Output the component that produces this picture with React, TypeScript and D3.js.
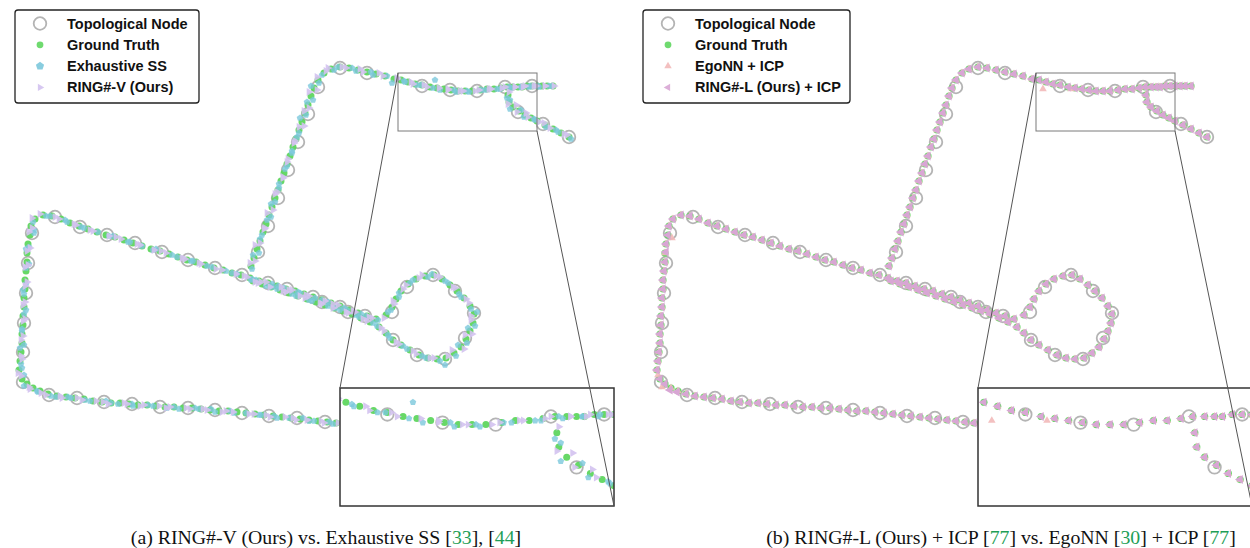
import React from 'react';
import * as d3 from 'd3';

type P = [number, number];

// Ground-truth query trajectory (map units), in driving order
const groundTruth: P[] = [
  // bottom road
  [336,423],[327,422],[318,421],[309,420],[300,419],[291,418],[282,417],[273,416],[264,415],[255,414],[246,413],[237,412],[228,411],[219,411],[210,410],[201,409],[192,408],[183,408],[174,407],[165,407],[156,406],[147,405],[138,405],[129,404],[120,403],[111,403],[102,402],[93,401],[84,399],[75,398],[66,397],[57,396],[48,394],[40,391],[33,388],[27,384],[22,379],
  // left road
  [19,370],[20,361],[21,352],[22,343],[22,334],[23,325],[23,316],[24,307],[24,298],[25,289],[25,280],[26,271],[27,262],[27,253],[28,244],[30,235],[31,226],[35,219],
  // upper diagonal
  [43,215],[52,216],[61,219],[70,223],[79,226],[88,229],[97,232],[106,235],[115,237],[124,240],[133,243],[142,246],[151,249],[160,251],[169,254],[178,257],[187,260],[196,262],[205,265],[214,268],[223,270],[232,273],[241,275],[250,278],[259,281],[268,283],[277,286],[286,289],[295,291],[304,294],[313,297],[322,300],[331,303],[340,306],[349,310],[358,313],[367,316],[376,319],
  // loop
  [386,315],[392,307],[396,299],[401,291],[408,284],[416,279],[425,276],[434,275],[442,279],[450,285],[457,291],[464,298],[470,306],[474,314],[473,323],[470,331],[466,339],[461,347],[454,353],[446,358],[437,359],[428,358],[419,355],[410,350],[401,345],[393,340],[386,333],[379,327],
  // return along diagonal
  [370,322],[361,318],[352,314],[343,311],[334,308],[325,305],[316,302],[307,299],[298,296],[289,293],[280,290],[271,287],[262,284],[253,281],
  // long straight up
  [251,266],[254,258],[257,249],[260,241],[263,232],[266,224],[269,215],[272,207],[275,198],[278,190],[281,181],[284,173],[287,164],[290,156],[293,147],[296,139],[299,130],[302,122],[305,113],[308,105],[311,96],[314,88],[318,80],[324,73],[331,69],[340,67],
  // top road
  [349,68],[358,70],[367,72],[376,74],[385,76],[394,79],[401,80],[408,82],[415,84],[422,85],[430,87],[437,88],[444,89],[451,90],[458,91],[465,91],[472,91],[480,90],[487,89],[494,89],[501,88],[507,87],[513,87],[518,87],[522,87],[527,86],[532,86],[537,86],[542,86],[547,86],[553,86],
  // branch
  [508,95],[509,102],[513,107],[519,111],[525,115],[531,118],[537,121],[545,125],[553,129],[561,133],[569,137],
];

// Topological map nodes
const topoNodes: P[] = [
  [23,382],[49,395],[77,398],[104,402],[132,404],[160,407],[188,408],[215,410],[242,413],[269,416],[297,418],[325,422],
  [23,352],[24,323],[26,293],[28,263],[32,233],
  [55,217],[80,227],[107,235],[135,243],[162,252],[188,260],[215,268],[242,275],[268,283],[287,289],[313,297],[322,302],[340,307],[348,312],[365,316],
  [392,312],[407,287],[433,275],[455,291],[474,313],[465,338],[445,359],[417,355],[393,340],
  [258,252],[268,226],[278,198],[288,170],[298,142],[308,114],[318,87],
  [340,68],[367,73],[422,86],[450,90],[477,91],[505,87],[532,86],
  [518,112],[543,124],[569,137],
];

// Exhaustive SS estimation error per query (dx, dy)
const exhaustiveErr: P[] = [
  [-3,1],[2,0],[-4,0],[0,1],[3,-1],[-2,0],[-5,1],[1,0],[-3,0],[4,1],[0,0],[-3,1],[2,0],[-4,1],[1,-1],[-2,0],[3,0],[-4,1],[0,0],[2,1],[-3,0],[1,0],[-5,1],[3,0],[-2,1],[0,0],[4,-1],[-3,0],[1,1],[-4,0],[2,0],[-1,1],[3,2],[-2,1],[4,3],[-3,2],[2,-4],
  [3,-2],[1,3],[-1,-4],[2,2],[0,-3],[-1,4],[1,-2],[2,3],[0,-4],[-2,1],[1,4],[0,-3],[2,2],[-1,-4],[1,3],[4,-2],[3,4],[-2,3],
  [3,1],[-2,0],[4,1],[-3,-1],[2,1],[-4,-1],[1,0],[3,1],[-2,-1],[4,2],[-3,-1],[0,0],[2,1],[-4,-2],[3,1],[-1,0],[4,1],[-3,-1],[2,1],[-2,-1],[3,1],[0,0],[-4,-1],[2,1],[-3,-1],[4,1],[1,0],[-2,-1],[3,1],[-4,-1],[2,1],[0,0],[-3,-1],[4,2],[-2,0],[3,1],[-1,0],[2,1],
  [2,-3],[-1,3],[3,-2],[-2,2],[2,-1],[-3,1],[3,1],[-2,-1],[3,2],[-2,-2],[2,3],[-3,-1],[1,3],[3,-2],[2,3],[-2,-3],[1,4],[-3,-2],[2,3],[-1,7],[3,2],[-2,0],[3,1],[-3,-1],[2,1],[-3,-2],[2,2],[-2,-1],
  [3,1],[-2,-1],[4,1],[-3,-1],[1,0],[3,1],[-4,-1],[2,1],[-2,0],[3,1],[-3,-1],[1,0],[4,2],[-2,-1],
  [1,3],[-1,-3],[2,4],[0,-2],[-1,3],[1,-4],[2,2],[-1,-3],[0,4],[1,-2],[-2,3],[1,-4],[0,2],[2,-3],[-1,4],[1,-2],[0,3],[-2,-4],[1,2],[-1,-3],[2,4],[-3,-2],[1,3],[-2,2],[3,1],[-2,0],
  [3,0],[-2,1],[4,0],[-3,1],[2,0],[-2,4],[3,1],[-3,0],[2,1],[-1,0],[3,1],[-2,-8],[-4,1],[3,0],[-2,1],[2,0],[-3,1],[1,0],[-2,1],[3,0],[-1,1],[2,0],[-2,1],[3,0],[-1,0],[2,1],[-2,0],[1,0],[-3,1],[2,0],[-1,0],
  [-1,3],[1,-2],[-3,2],[2,-1],[-1,2],[3,1],[-2,-1],[1,2],[3,1],[-3,-1],[2,2],
];

// RING#-V estimation error per query (dx, dy)
const ringVErr: P[] = [
  [2,0],[-3,1],[3,0],[-2,0],[-4,1],[2,0],[3,0],[-3,1],[2,0],[-1,0],[3,1],[-4,0],[-2,0],[3,1],[-3,0],[2,0],[-2,1],[3,0],[-4,0],[1,1],[3,0],[-3,0],[2,1],[-2,0],[4,0],[-3,1],[1,0],[3,0],[-2,1],[2,0],[-4,1],[3,0],[-2,1],[1,2],[-3,1],[2,3],[-1,-3],
  [-1,3],[2,-2],[0,4],[-1,-3],[1,2],[0,-4],[2,3],[-1,-2],[1,4],[0,-3],[2,2],[-1,-4],[1,3],[0,-2],[2,4],[-1,-3],[1,2],[-3,-1],
  [-3,-1],[3,1],[-2,0],[4,1],[-3,-1],[2,1],[-4,-1],[3,1],[1,0],[-3,-1],[4,1],[-2,-1],[3,1],[1,0],[-3,-1],[4,1],[-2,-1],[3,1],[-4,-1],[2,1],[-1,0],[4,1],[3,1],[-3,-1],[2,1],[-2,-1],[4,1],[3,1],[-3,-1],[2,1],[-4,-1],[3,1],[2,1],[-2,-1],[4,1],[-3,-1],[2,1],[-4,-1],
  [-2,3],[2,-3],[-3,2],[2,-2],[-2,1],[3,-1],[-3,-1],[2,1],[-2,-2],[3,2],[-2,-3],[2,1],[-1,-3],[-3,2],[-2,-3],[2,3],[-1,-4],[3,2],[-2,-3],[2,-2],[-3,-1],[2,0],[-3,-1],[3,1],[-2,-1],[3,2],[-2,-2],[2,1],
  [-3,-1],[2,1],[-4,-1],[3,1],[-1,0],[-3,-1],[4,1],[-2,-1],[2,0],[-3,-1],[3,1],[-1,0],[-4,-1],[2,1],
  [-1,-3],[1,3],[-2,-4],[0,2],[1,-3],[-1,4],[-2,-2],[1,3],[0,-4],[-1,2],[2,-3],[-1,4],[0,-2],[-2,3],[1,-4],[-1,2],[0,-3],[2,4],[-1,-2],[1,3],[-2,-4],[3,2],[-1,-3],[2,-2],[-3,-1],[2,0],
  [-3,0],[2,-1],[-4,0],[3,-1],[-2,0],[3,-1],[-4,-1],[3,0],[-2,0],[2,0],[-3,0],[2,0],[4,0],[-3,0],[2,0],[-2,0],[3,0],[-1,0],[2,0],[-3,0],[1,0],[-2,0],[2,0],[-3,0],[1,0],[-2,0],[2,0],[-1,0],[3,0],[-2,0],[1,0],
  [1,-3],[-1,2],[3,-2],[-2,1],[1,-2],[-3,-1],[2,1],[-1,-2],[-3,-1],[3,1],[-2,-2],
];

// EgoNN + ICP: frames whose estimate departs from ground truth [frame, dx, dy]
const egoNNDeviations: [number, number, number][] = [
  [167, 4, 9], [171, 3, 2], [52, 4, 3], [36, -2, -4], [35, -3, 3],
];
// RING#-L + ICP: frames whose estimate departs from ground truth [frame, dx, dy]
const ringLDeviations: [number, number, number][] = [
  [33, -1, 1], [34, -1, 2], [50, 1, -1],
];

const legendA = ['Topological Node', 'Ground Truth', 'Exhaustive SS', 'RING#-V (Ours)'];
const legendB = ['Topological Node', 'Ground Truth', 'EgoNN + ICP', 'RING#-L (Ours) + ICP'];

const zoomWindowX: P = [398, 537];
const zoomWindowY: P = [73, 131];

const C = {
  node: '#b4b4b4',
  gt: '#5fd65f',
  ess: '#7cc8dc',
  ringV: '#d3c2ef',
  ego: '#f2b9b9',
  ringL: '#d8a6d4',
  cite: '#1e9e56',
};

type Kind = 'circle' | 'pentagon' | 'triRight' | 'triLeft' | 'triUp';

function shapePath(kind: Kind, r: number): string {
  const p = d3.path();
  let pts: P[] = [];
  if (kind === 'pentagon') {
    pts = d3.range(5).map((k) => {
      const a = (-90 + 72 * k) * Math.PI / 180;
      return [r * Math.cos(a), r * Math.sin(a)] as P;
    });
  } else if (kind === 'triRight') {
    pts = [[r, 0], [-r * 0.5, -r * 0.866], [-r * 0.5, r * 0.866]];
  } else if (kind === 'triLeft') {
    pts = [[-r, 0], [r * 0.5, -r * 0.866], [r * 0.5, r * 0.866]];
  } else if (kind === 'triUp') {
    pts = [[0, -r], [r * 0.866, r * 0.5], [-r * 0.866, r * 0.5]];
  }
  pts.forEach((q, i) => (i === 0 ? p.moveTo(q[0], q[1]) : p.lineTo(q[0], q[1])));
  p.closePath();
  return p.toString();
}

function Marker({ kind, x, y, color, r, opacity = 0.9 }: { kind: Kind; x: number; y: number; color: string; r: number; opacity?: number }) {
  if (kind === 'circle') return <circle cx={x} cy={y} r={r} fill={color} fillOpacity={opacity} />;
  return <path d={shapePath(kind, r)} transform={`translate(${x},${y})`} fill={color} fillOpacity={opacity} />;
}

type Series = { pts: P[]; kind: Kind; color: string; r: number; opacity: number };

function Layer({ series, nodes, sx, sy }: { series: Series[]; nodes: P[]; sx: (v: number) => number; sy: (v: number) => number }) {
  return (
    <g>
      {nodes.map((n, i) => (
        <circle key={'n' + i} cx={sx(n[0])} cy={sy(n[1])} r={6.3} fill="none" stroke={C.node} strokeWidth={1.8} />
      ))}
      {series.map((s, si) => (
        <g key={si}>
          {s.pts.map((p, i) => (
            <Marker key={i} kind={s.kind} x={sx(p[0])} y={sy(p[1])} color={s.color} r={s.r} opacity={s.opacity} />
          ))}
        </g>
      ))}
    </g>
  );
}

function Panel({ ox, series, legend, legendKinds, legendColors, legendW, id }: {
  ox: number; series: Series[]; legend: string[]; legendKinds: Kind[]; legendColors: string[]; legendW: number; id: string;
}) {
  const sx = d3.scaleLinear().domain([0, 620]).range([ox, ox + 620]);
  const sy = d3.scaleLinear().domain([0, 430]).range([0, 430]);
  const ix = d3.scaleLinear().domain(zoomWindowX).range([ox + 340, ox + 614]);
  const iy = d3.scaleLinear().domain(zoomWindowY).range([388, 506]);
  const lx = ox + (id === 'a' ? 15 : 5);
  const insetW = ix(zoomWindowX[1]) - ix(zoomWindowX[0]);
  const insetH = iy(zoomWindowY[1]) - iy(zoomWindowY[0]);
  return (
    <g>
      <Layer series={series} nodes={topoNodes} sx={sx} sy={sy} />
      {/* zoom window */}
      <rect x={sx(zoomWindowX[0])} y={sy(zoomWindowY[0])} width={sx(zoomWindowX[1]) - sx(zoomWindowX[0])} height={sy(zoomWindowY[1]) - sy(zoomWindowY[0])} fill="none" stroke="#7a7a7a" strokeWidth={1} />
      {/* inset */}
      <clipPath id={'clip' + id}>
        <rect x={ix(zoomWindowX[0])} y={iy(zoomWindowY[0])} width={insetW} height={insetH} />
      </clipPath>
      <rect x={ix(zoomWindowX[0])} y={iy(zoomWindowY[0])} width={insetW} height={insetH} fill="#fff" />
      <g clipPath={`url(#clip${id})`}>
        <Layer series={series} nodes={topoNodes} sx={ix} sy={iy} />
      </g>
      <rect x={ix(zoomWindowX[0])} y={iy(zoomWindowY[0])} width={insetW} height={insetH} fill="none" stroke="#333" strokeWidth={1.5} />
      <line x1={sx(zoomWindowX[0])} y1={sy(zoomWindowY[0])} x2={ix(zoomWindowX[0])} y2={iy(zoomWindowY[0])} stroke="#555" strokeWidth={1} />
      <line x1={sx(zoomWindowX[1])} y1={sy(zoomWindowY[1])} x2={ix(zoomWindowX[1])} y2={iy(zoomWindowY[1])} stroke="#555" strokeWidth={1} />
      {/* legend */}
      <rect x={lx} y={10} width={legendW} height={93} rx={3} fill="#fff" stroke="#222" strokeWidth={1.3} />
      {legend.map((t, i) => {
        const y = 23.5 + i * 21.3;
        return (
          <g key={t}>
            {i === 0 ? (
              <circle cx={lx + 25} cy={y} r={6.3} fill="none" stroke={C.node} strokeWidth={1.8} />
            ) : (
              <Marker kind={legendKinds[i]} x={lx + 25} y={y} color={legendColors[i]} r={legendKinds[i] === 'circle' ? 3.4 : 4.3} />
            )}
            <text x={lx + 52} y={y + 5} fontFamily="'Liberation Sans', Arial, sans-serif" fontWeight="bold" fontSize={14.5} fill="#111">{t}</text>
          </g>
        );
      })}
    </g>
  );
}

export default function App() {
  const essPts = groundTruth.map((p, i) => [p[0] + (exhaustiveErr[i]?.[0] ?? 0), p[1] + (exhaustiveErr[i]?.[1] ?? 0)] as P);
  const ringVPts = groundTruth.map((p, i) => [p[0] + (ringVErr[i]?.[0] ?? 0), p[1] + (ringVErr[i]?.[1] ?? 0)] as P);
  const egoPts = groundTruth.map((p, i) => {
    const d = egoNNDeviations.find((e) => e[0] === i);
    return (d ? [p[0] + d[1], p[1] + d[2]] : p) as P;
  });
  const ringLPts = groundTruth.map((p, i) => {
    const d = ringLDeviations.find((e) => e[0] === i);
    return (d ? [p[0] + d[1], p[1] + d[2]] : p) as P;
  });

  const seriesA: Series[] = [
    { pts: groundTruth, kind: 'circle', color: C.gt, r: 3.5, opacity: 0.95 },
    { pts: essPts, kind: 'pentagon', color: C.ess, r: 3.5, opacity: 0.8 },
    { pts: ringVPts, kind: 'triRight', color: C.ringV, r: 4.6, opacity: 0.9 },
  ];
  const seriesB: Series[] = [
    { pts: groundTruth, kind: 'circle', color: C.gt, r: 3.6, opacity: 0.95 },
    { pts: egoPts, kind: 'triUp', color: C.ego, r: 4.4, opacity: 0.9 },
    { pts: ringLPts, kind: 'triLeft', color: C.ringL, r: 5.2, opacity: 1 },
  ];

  const serif = "'Liberation Serif', 'Times New Roman', serif";
  return (
    <svg width={1250} height={548} style={{ position: 'absolute', left: 0, top: 0, background: '#fff' }}>
      <rect width={1250} height={548} fill="#fff" />
      <Panel ox={0} id="a" series={seriesA} legend={legendA} legendKinds={['circle', 'circle', 'pentagon', 'triRight']} legendColors={[C.node, C.gt, C.ess, C.ringV]} legendW={184} />
      <Panel ox={638} id="b" series={seriesB} legend={legendB} legendKinds={['circle', 'circle', 'triUp', 'triLeft']} legendColors={[C.node, C.gt, C.ego, C.ringL]} legendW={207} />
      <text x={326} y={544} textAnchor="middle" fontFamily={serif} fontSize={19.8} fill="#111">
        (a) RING#-V (Ours) vs. Exhaustive SS [<tspan fill={C.cite}>33</tspan>], [<tspan fill={C.cite}>44</tspan>]
      </text>
      <text x={1001} y={544} textAnchor="middle" fontFamily={serif} fontSize={19.8} fill="#111">
        (b) RING#-L (Ours) + ICP [<tspan fill={C.cite}>77</tspan>] vs. EgoNN [<tspan fill={C.cite}>30</tspan>] + ICP [<tspan fill={C.cite}>77</tspan>]
      </text>
    </svg>
  );
}
